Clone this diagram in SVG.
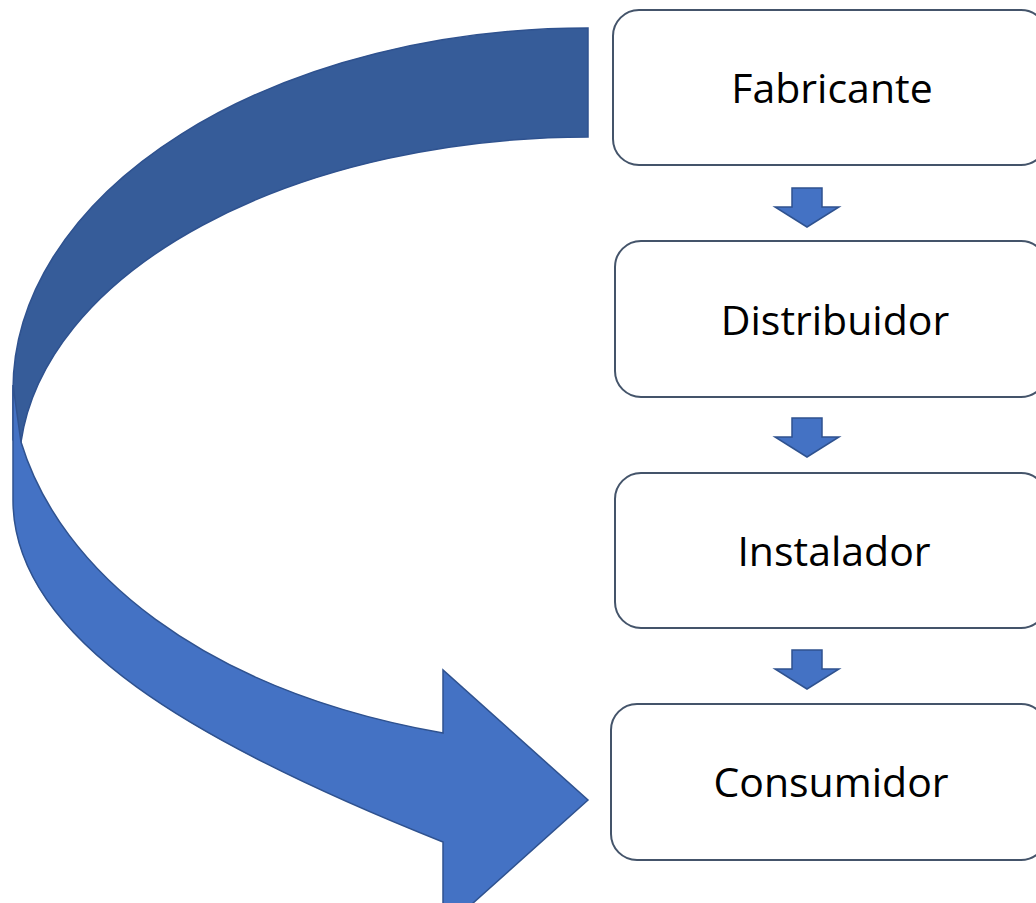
<svg xmlns="http://www.w3.org/2000/svg" width="1036" height="903" viewBox="0 0 1036 903">
<style>
.box{fill:#FFFFFF;stroke:#44546A;stroke-width:2}
.lbl{font-family:"Open Sans","Liberation Sans",sans-serif;font-size:41px;fill:#000000;text-anchor:middle}
.sm{fill:#4472C4;stroke:#2F528F;stroke-width:1.5;stroke-linejoin:miter}
.back{fill:#365C99;stroke:#2F528F;stroke-width:1.5}
.front{fill:#4472C4;stroke:#2F528F;stroke-width:1.5}
</style>
<rect width="1036" height="903" fill="#FFFFFF"/>
<g id="connectors">
  <g id="curved-arrow">
    <path class="back" d="M588,28 A575,362 0 0 0 13,390 L13,440 L21,442 A570,333 0 0 1 588,137 Z"/>
    <path class="front" d="M13,385 L21,442 C60,570 200,690 443,733 L443,670 L588,800 L443,930 L443,842 C200,745 13,640 13,500 Z"/>
  </g>
  <path id="arrow1" class="sm" d="M792,188 L822,188 L822,207 L839,207 L807,227 L775,207 L792,207 Z"/>
  <path id="arrow2" class="sm" d="M792,418 L822,418 L822,437 L839,437 L807,457 L775,437 L792,437 Z"/>
  <path id="arrow3" class="sm" d="M792,650 L822,650 L822,669 L839,669 L807,689 L775,669 L792,669 Z"/>
</g>
<g id="node-fabricante">
  <rect class="box" x="613" y="10" width="434" height="155" rx="26" ry="26"/>
  <text class="lbl" x="832" y="103">Fabricante</text>
</g>
<g id="node-distribuidor">
  <rect class="box" x="615" y="241" width="432" height="156" rx="26" ry="26"/>
  <text class="lbl" x="835" y="335">Distribuidor</text>
</g>
<g id="node-instalador">
  <rect class="box" x="615" y="473" width="432" height="155" rx="26" ry="26"/>
  <text class="lbl" x="834" y="566">Instalador</text>
</g>
<g id="node-consumidor">
  <rect class="box" x="611" y="704" width="436" height="156" rx="26" ry="26"/>
  <text class="lbl" x="831" y="797">Consumidor</text>
</g>
</svg>
